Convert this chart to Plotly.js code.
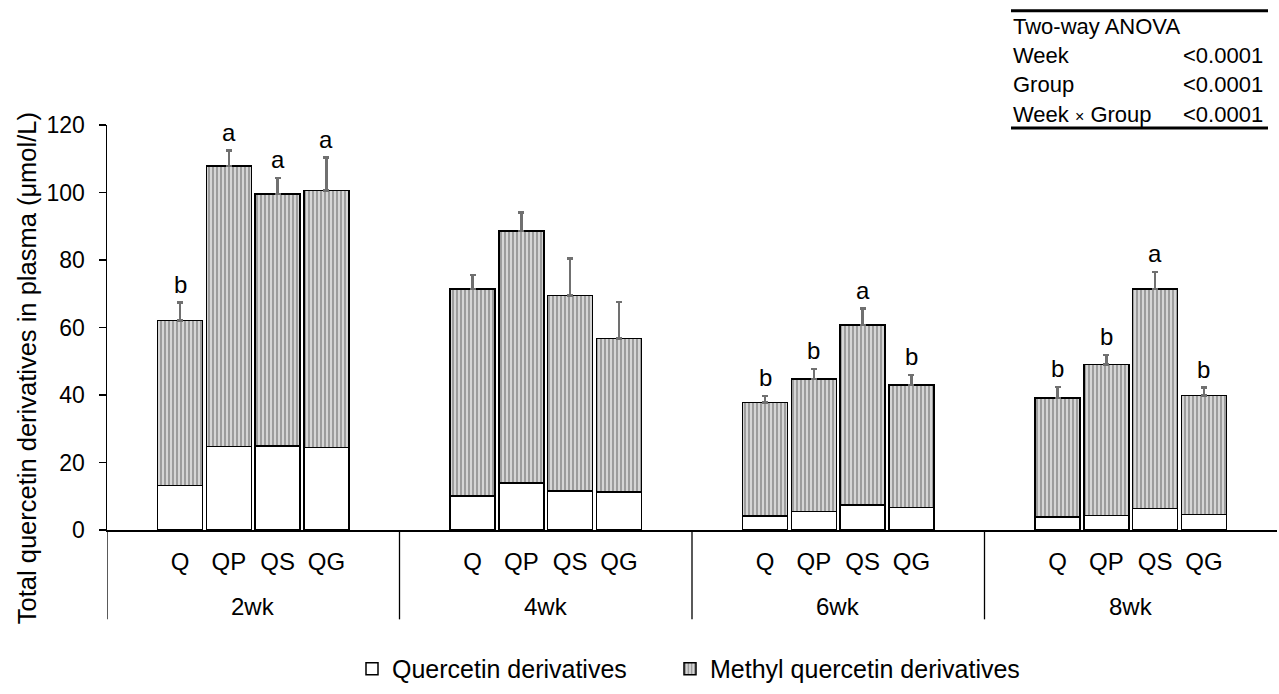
<!DOCTYPE html>
<html>
<head>
<meta charset="utf-8">
<script src="https://cdn.plot.ly/plotly-3.0.1.min.js"></script>
<style>
  html, body { margin: 0; padding: 0; background: #fff; }
  #chart { width: 1279px; height: 694px; }
</style>
</head>
<body>
<div id="chart"></div>
<script>
// ---- data ----
const weeks = ['2wk', '4wk', '6wk', '8wk'];
const groups = ['Q', 'QP', 'QS', 'QG'];
// order: 2wk Q,QP,QS,QG | 4wk ... | 6wk ... | 8wk ...
const quercetin = [13.2, 24.7, 24.9, 24.5, 10.1, 13.9, 11.6, 11.3, 4.1, 5.5, 7.4, 6.6, 3.8, 4.3, 6.4, 4.6];
const methyl    = [48.9, 83.1, 74.7, 76.1, 61.3, 74.7, 57.9, 45.4, 33.7, 39.2, 53.4, 36.3, 35.3, 44.7, 65.0, 35.2];
const sem       = [5.3, 4.6, 4.7, 9.7, 4.2, 5.5, 11.0, 10.8, 1.9, 3.0, 4.8, 3.0, 3.3, 2.8, 5.0, 2.4];
const letters   = ['b', 'a', 'a', 'a', '', '', '', '', 'b', 'b', 'a', 'b', 'b', 'b', 'a', 'b'];
const yTicks = [0, 20, 40, 60, 80, 100, 120];
const anovaRows = [['Week', '<0.0001'], ['Group', '<0.0001'], ['Week <span style="font-size:16px">×</span> Group', '<0.0001']];

// ---- layout helpers ----
const FONT = 'Arial, "Liberation Sans", sans-serif';
const SLOT = 6;          // width of a week block in axis units
const xPos = [], xText = [];
weeks.forEach((w, wi) => groups.forEach((g, gi) => { xPos.push(wi * SLOT + 1.5 + gi); xText.push(g); }));

const traces = [
  {
    type: 'bar', name: 'Quercetin derivatives', x: xPos, y: quercetin, width: 0.92, legendwidth: 273,
    marker: { color: '#ffffff', line: { color: '#000', width: 1.5 } },
    hoverinfo: 'skip'
  },
  {
    type: 'bar', name: 'Methyl quercetin derivatives', x: xPos, y: methyl, width: 0.92, legendwidth: 330,
    marker: {
      color: '#c8c8c8', line: { color: '#000', width: 1.5 },
      pattern: { shape: '|', size: 4, solidity: 0.32, fgcolor: '#7c7c7c', bgcolor: '#d6d6d6', fillmode: 'replace' }
    },
    error_y: { type: 'data', array: sem, symmetric: false, arrayminus: sem.map(() => 0), color: '#707070', thickness: 2.5, width: 3 },
    hoverinfo: 'skip'
  }
];

const annotations = [];
// significance letters
xPos.forEach((x, i) => {
  if (!letters[i]) return;
  annotations.push({ x: x, y: quercetin[i] + methyl[i] + sem[i], xref: 'x', yref: 'y', text: letters[i],
    showarrow: false, yanchor: 'bottom', yshift: 3, font: { family: FONT, size: 24, color: '#000' } });
});
// week labels
weeks.forEach((w, wi) => {
  annotations.push({ x: wi * SLOT + SLOT / 2, y: (533 - 610) / 408, xref: 'x', yref: 'paper', text: w,
    showarrow: false, yanchor: 'middle', font: { family: FONT, size: 24, color: '#000' } });
});
// y title
annotations.push({ x: (27 - 107) / 1170, y: (533 - 370) / 408, xref: 'paper', yref: 'paper',
  text: 'Total quercetin derivatives in plasma (μmol/L)', textangle: -90, showarrow: false,
  xanchor: 'center', yanchor: 'middle', font: { family: FONT, size: 25.5, color: '#000' } });
// ANOVA table
const px = v => (v - 107) / 1170, py = v => (533 - v) / 408;
annotations.push({ x: px(1011), y: py(26), xref: 'paper', yref: 'paper', text: 'Two-way ANOVA', showarrow: false,
  xanchor: 'left', yanchor: 'middle', font: { family: FONT, size: 22, color: '#000' } });
const rowY = [55, 84, 114];
anovaRows.forEach((r, i) => {
  annotations.push({ x: px(1011), y: py(rowY[i]), xref: 'paper', yref: 'paper', text: r[0], showarrow: false,
    xanchor: 'left', yanchor: 'middle', font: { family: FONT, size: 22, color: '#000' } });
  annotations.push({ x: px(1265), y: py(rowY[i]), xref: 'paper', yref: 'paper', text: r[1], showarrow: false,
    xanchor: 'right', yanchor: 'middle', font: { family: FONT, size: 22, color: '#000' } });
});

const shapes = [];
// dividers below the axis (including the y-axis extension)
for (let wi = 0; wi < weeks.length; wi++) {
  shapes.push({ type: 'line', xref: 'x', yref: 'paper', x0: wi * SLOT, x1: wi * SLOT, y0: 0, y1: py(623),
    line: { color: '#000', width: 1.3 } });
}
shapes.push({ type: 'line', xref: 'paper', yref: 'paper', x0: px(1011), x1: px(1268), y0: py(10), y1: py(10), line: { color: '#000', width: 3 } });
shapes.push({ type: 'line', xref: 'paper', yref: 'paper', x0: px(1011), x1: px(1268), y0: py(128), y1: py(128), line: { color: '#000', width: 3 } });

const layout = {
  width: 1279, height: 694,
  margin: { l: 107, r: 2, t: 125, b: 161, pad: 0 },
  paper_bgcolor: '#fff', plot_bgcolor: '#fff',
  barmode: 'stack',
  showlegend: true,
  font: { family: FONT, size: 22, color: '#000' },
  xaxis: {
    range: [0, weeks.length * SLOT], tickmode: 'array', tickvals: xPos, ticktext: xText,
    ticks: '', showgrid: false, zeroline: false, showline: true, linecolor: '#000', linewidth: 1.5,
    ticklabelstandoff: 10, tickfont: { family: FONT, size: 24, color: '#000' }, fixedrange: true
  },
  yaxis: {
    range: [0, 120], tickmode: 'array', tickvals: yTicks, ticks: 'outside', ticklen: 7, tickwidth: 1.3,
    tickcolor: '#000', showgrid: false, zeroline: false, showline: true, linecolor: '#000', linewidth: 1.5,
    ticklabelstandoff: 9, tickfont: { family: FONT, size: 23, color: '#000' }, fixedrange: true
  },
  legend: {
    orientation: 'h', traceorder: 'normal', xref: 'paper', yref: 'paper', x: px(352), y: py(673),
    xanchor: 'left', yanchor: 'middle',
    font: { family: FONT, size: 25, color: '#000' }, bgcolor: 'rgba(0,0,0,0)', itemclick: false
  },
  annotations: annotations,
  shapes: shapes
};

Plotly.newPlot('chart', traces, layout, { displayModeBar: false, staticPlot: true });
</script>
</body>
</html>
